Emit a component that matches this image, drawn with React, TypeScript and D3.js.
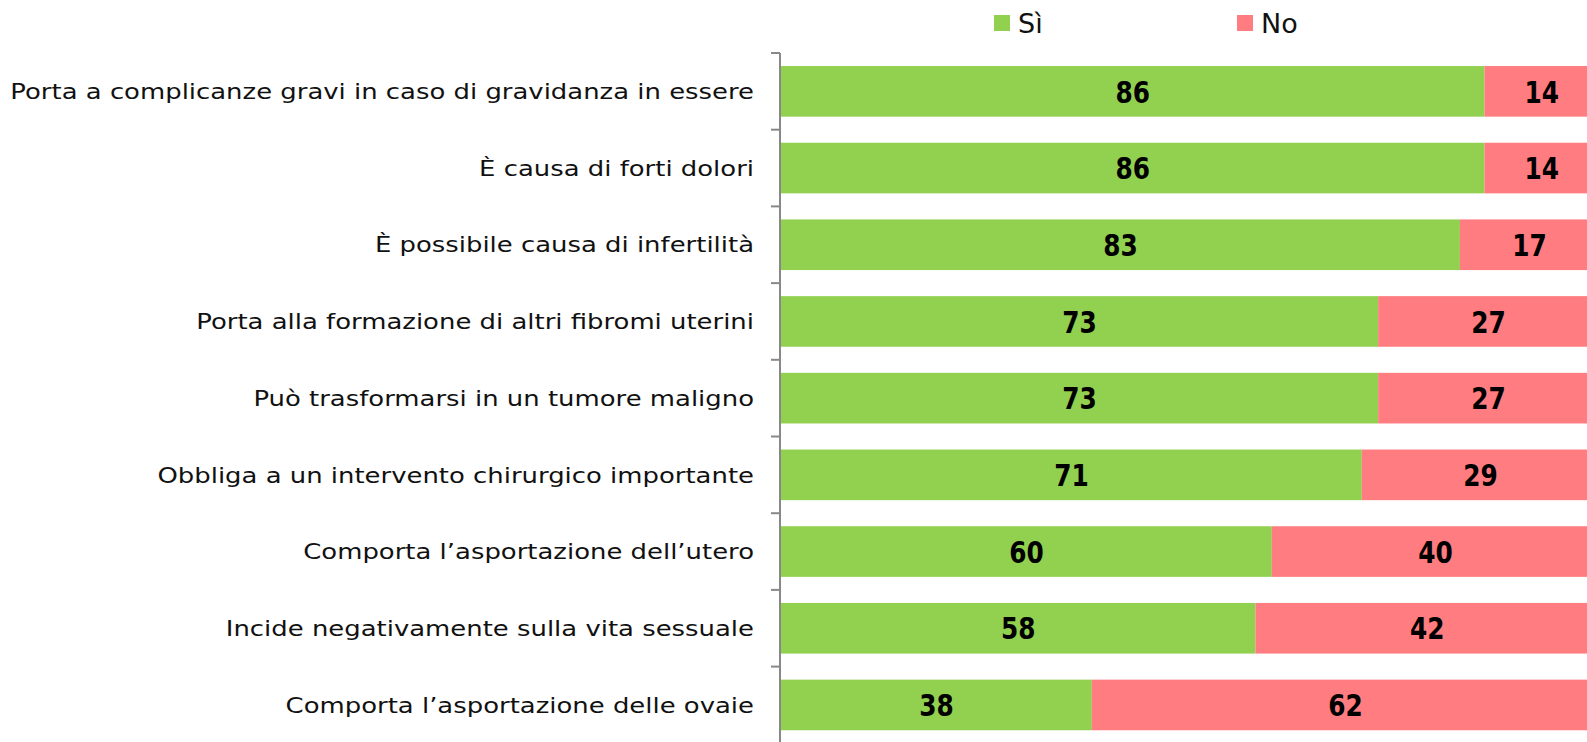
import React from "react";
import * as d3 from "d3";

const categories = [
  "Porta a complicanze gravi in caso di gravidanza in essere",
  "È causa di forti dolori",
  "È possibile causa di infertilità",
  "Porta alla formazione di altri fibromi uterini",
  "Può trasformarsi in un tumore maligno",
  "Obbliga a un intervento chirurgico importante",
  "Comporta l’asportazione dell’utero",
  "Incide negativamente sulla vita sessuale",
  "Comporta l’asportazione delle ovaie",
];
const siValues = [86, 86, 83, 73, 73, 71, 60, 58, 38];
const noValues = [14, 14, 17, 27, 27, 29, 40, 42, 62];
const seriesNames = ["Sì", "No"];
const seriesColors = ["#92D050", "#FF7C80"];

const W = 1587;
const H = 742;
const FONT = "'DejaVu Sans', sans-serif";

export default function App() {
  const x = d3.scaleLinear().domain([0, 100]).range([781, 1599]);
  const y = d3
    .scaleBand<string>()
    .domain(categories)
    .range([53, 53 + 9 * 76.7])
    .paddingInner(0.34)
    .paddingOuter(0.17);
  const tickYs = categories.map((_, i) => 53 + i * 76.7);
  tickYs.push(53 + 9 * 76.7);

  const valueLabel = (cx: number, cy: number, v: number) => (
    <text
      transform={`translate(${cx},${cy}) scale(0.8,1)`}
      dy="0.36em"
      textAnchor="middle"
      fontFamily={FONT}
      fontWeight="bold"
      fontSize={31}
      fill="#000"
    >
      {v}
    </text>
  );

  return (
    <svg
      width={W}
      height={H}
      style={{ position: "absolute", left: 0, top: 0, background: "#fff" }}
    >
      {/* legend */}
      {seriesNames.map((s, i) => {
        const lx = i === 0 ? 994 : 1237;
        return (
          <g key={s}>
            <rect x={lx} y={15} width={16} height={16} fill={seriesColors[i]} />
            <text
              x={lx + 24}
              y={33}
              fontFamily={FONT}
              fontSize={27}
              fill="#111"
            >
              {s}
            </text>
          </g>
        );
      })}
      {/* bars */}
      {categories.map((c, i) => {
        const by = y(c)!;
        const bh = y.bandwidth();
        const si = siValues[i];
        const no = noValues[i];
        const cy = by + bh / 2;
        return (
          <g key={c}>
            <rect x={x(0)} y={by} width={x(si) - x(0)} height={bh} fill={seriesColors[0]} />
            <rect x={x(si)} y={by} width={x(si + no) - x(si)} height={bh} fill={seriesColors[1]} />
            {valueLabel((x(0) + x(si)) / 2, cy, si)}
            {valueLabel((x(si) + x(si + no)) / 2, cy, no)}
            <text
              transform={`translate(754,${cy}) scale(1.205,1)`}
              dy="0.36em"
              textAnchor="end"
              fontFamily={FONT}
              fontSize={21.5}
              fill="#111"
            >
              {c}
            </text>
          </g>
        );
      })}
      {/* axis */}
      <line x1={780} x2={780} y1={53} y2={H} stroke="#888" strokeWidth={2} />
      {tickYs.map((t, i) => (
        <line key={i} x1={771} x2={780} y1={t} y2={t} stroke="#888" strokeWidth={2} />
      ))}
    </svg>
  );
}
